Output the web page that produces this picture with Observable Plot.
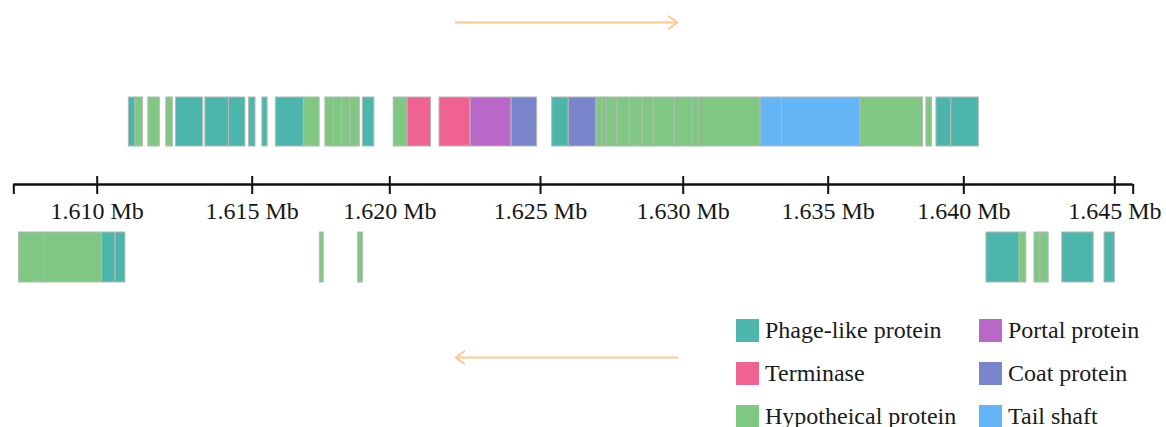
<!DOCTYPE html>
<html><head><meta charset="utf-8">
<script src="https://cdn.jsdelivr.net/npm/d3@7"></script>
<script src="https://cdn.jsdelivr.net/npm/@observablehq/plot@0.6"></script>
<style>
html,body{margin:0;padding:0;background:#fff;}
#chart{position:relative;width:1166px;height:427px;overflow:hidden;font-family:"Liberation Serif","Times New Roman",serif;}
#chart svg{position:absolute;left:0;top:0;}
#legend{position:absolute;left:736px;top:308.5px;display:grid;grid-template-columns:243px 200px;grid-template-rows:repeat(3,43px);grid-auto-flow:column;font-size:24px;color:#1a1a1a;}
.item{display:flex;align-items:center;white-space:nowrap;}
.sw{width:23px;height:23px;margin-right:6px;flex:none;}
</style></head><body><div id="chart"></div>
<script>
// ---- data ----
const categories = ["Phage-like protein", "Terminase", "Hypotheical protein", "Portal protein", "Coat protein", "Tail shaft"];
const categoryColors = ["#4db6ac", "#f06292", "#81c784", "#ba68c8", "#7986cb", "#64b5f6"];
// type codes index into categories: 0 phage-like, 1 terminase, 2 hypothetical, 3 portal, 4 coat, 5 tail shaft
// forward strand genes (kb)
const fwdStart = [1611.02, 1611.24, 1611.65, 1612.23, 1612.54, 1613.49, 1614.25, 1614.90, 1615.37, 1615.86,
  1616.88, 1617.66, 1617.97, 1618.27, 1618.57, 1619.02, 1620.13, 1620.59, 1621.65, 1622.68,
  1624.04, 1625.41, 1625.99, 1626.96, 1627.16, 1627.32, 1627.69, 1628.13, 1628.58, 1628.97,
  1629.70, 1630.31, 1630.54, 1632.67, 1633.41, 1636.19, 1638.62, 1638.99, 1639.54];
const fwdEnd = [1611.24, 1611.48, 1612.02, 1612.44, 1613.42, 1614.25, 1614.78, 1615.12, 1615.56, 1616.88,
  1617.45, 1617.97, 1618.27, 1618.57, 1618.91, 1619.44, 1620.59, 1621.37, 1622.68, 1624.04,
  1624.89, 1625.99, 1626.96, 1627.16, 1627.32, 1627.69, 1628.13, 1628.58, 1628.97, 1629.70,
  1630.31, 1630.54, 1632.67, 1633.41, 1636.19, 1638.50, 1638.83, 1639.54, 1640.50];
const fwdType = [0, 2, 2, 2, 0, 0, 0, 0, 0, 0,
  2, 2, 2, 2, 2, 0, 2, 1, 1, 3,
  4, 0, 4, 2, 2, 2, 2, 2, 2, 2,
  2, 2, 2, 5, 5, 2, 2, 0, 0];
// reverse strand genes (kb)
const revStart = [1607.47, 1608.28, 1610.16, 1610.59, 1617.46, 1618.85, 1640.75, 1641.85, 1642.34, 1642.54, 1643.26, 1644.66];
const revEnd   = [1608.28, 1610.16, 1610.59, 1610.91, 1617.60, 1619.03, 1641.85, 1642.07, 1642.54, 1642.81, 1644.30, 1645.00];
const revType  = [2, 2, 0, 0, 2, 2, 0, 2, 2, 2, 0, 0];
// axis ticks (kb)
const tickValues = [1610, 1615, 1620, 1625, 1630, 1635, 1640, 1645];
const tickLabels = ["1.610 Mb", "1.615 Mb", "1.620 Mb", "1.625 Mb", "1.630 Mb", "1.635 Mb", "1.640 Mb", "1.645 Mb"];
// strand direction arrows (kb)
const arrowStrand = ["+", "-"];
const arrowFrom = [1622.18, 1629.80];
const arrowTo   = [1629.80, 1622.18];

// ---- layout ----
// The reference axis is drawn with slightly uneven tick spacing; calibrate kb -> display kb.
const xDomain = [1607.3, 1645.6];
const xRange = [13.3, 1132.7];
const calKb = [1607.3, 1610, 1615, 1620, 1625, 1630, 1635, 1640, 1645, 1645.6];
const calPx = [13.3, 96.7, 251.7, 389.3, 540, 682.7, 827.7, 963.3, 1114.3, 1132.7];
const pxToKb = d3.scaleLinear().domain(xRange).range(xDomain);
const warp = d3.scaleLinear().domain(calKb).range(calPx.map(p => pxToKb(p)));

const lanes = {
  "+": {top: 97, bottom: 146, arrow: 22},
  "-": {top: 232, bottom: 282, arrow: 357},
  axis: 184, tickTop: 176, tickBottom: 194, capBottom: 194, label: 210.5
};

const genes = [
  ...fwdStart.map((s, i) => ({start: s, end: fwdEnd[i], type: categories[fwdType[i]], strand: "+"})),
  ...revStart.map((s, i) => ({start: s, end: revEnd[i], type: categories[revType[i]], strand: "-"}))
];
const ticks = tickValues.map((v, i) => ({v, label: tickLabels[i]}));
const arrows = arrowStrand.map((s, i) => ({strand: s, from: arrowFrom[i], to: arrowTo[i]}));

const plot = Plot.plot({
  width: 1166, height: 427,
  marginTop: 0, marginRight: 0, marginBottom: 0, marginLeft: 0,
  x: {type: "linear", domain: xDomain, range: xRange, axis: null},
  y: {type: "linear", domain: [0, 427], range: [0, 427], axis: null},
  color: {domain: categories, range: categoryColors},
  style: {fontFamily: '"Liberation Serif", "Times New Roman", serif', background: "transparent", overflow: "visible"},
  marks: [
    Plot.arrow(arrows, {x1: d => warp(d.from), x2: d => warp(d.to), y1: d => lanes[d.strand].arrow, y2: d => lanes[d.strand].arrow,
      stroke: "#ffc890", strokeWidth: 1.8, headLength: 9, headAngle: 70}),
    Plot.rect(genes, {x1: d => warp(d.start), x2: d => warp(d.end), y1: d => lanes[d.strand].top, y2: d => lanes[d.strand].bottom,
      fill: "type", stroke: "#b2bab2", strokeWidth: 1}),
    Plot.ruleY([lanes.axis], {x1: xDomain[0], x2: xDomain[1], stroke: "#111", strokeWidth: 2.6}),
    Plot.ruleX(ticks, {x: d => warp(d.v), y1: lanes.tickTop, y2: lanes.tickBottom, stroke: "#111", strokeWidth: 2}),
    Plot.ruleX(xDomain, {x: d => d, y1: lanes.axis, y2: lanes.capBottom, stroke: "#111", strokeWidth: 2}),
    Plot.text(ticks, {x: d => warp(d.v), y: lanes.label, text: "label", fontSize: 24, fill: "#161616"})
  ]
});
const chart = document.getElementById("chart");
chart.appendChild(plot);

// legend
const legend = d3.select(chart).append("div").attr("id", "legend");
const items = legend.selectAll("div.item").data(categories).join("div").attr("class", "item");
items.append("span").attr("class", "sw").style("background", (d, i) => categoryColors[i]);
items.append("span").text(d => d);
</script></body></html>
